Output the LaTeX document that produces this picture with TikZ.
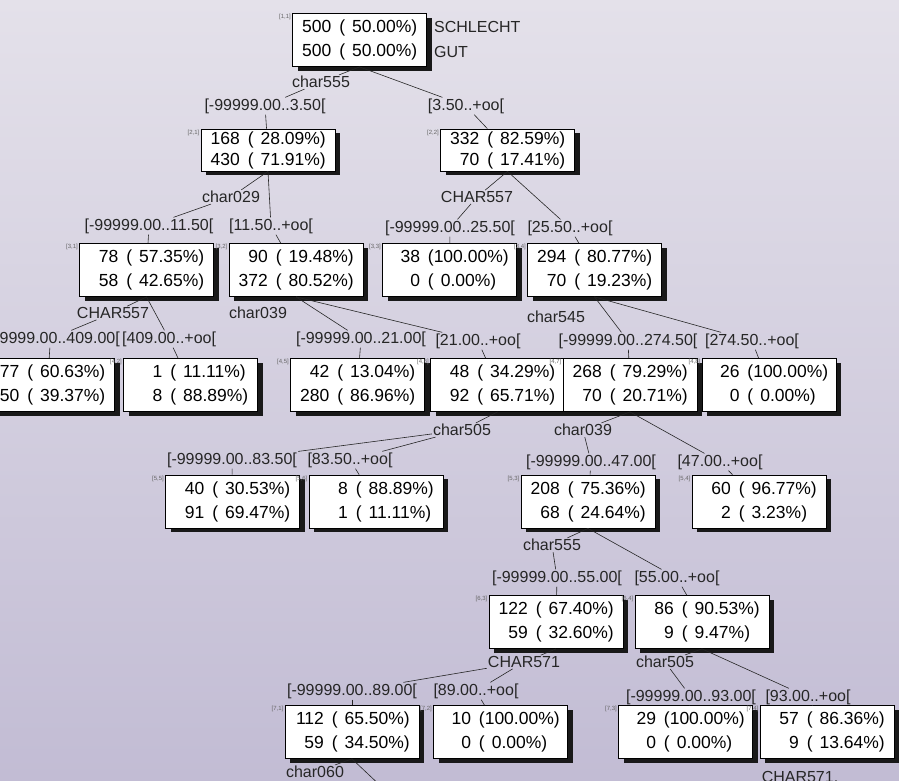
\documentclass[tikz,border=0pt]{standalone}
\usepackage{fontspec}
\setmainfont{Liberation Sans}
\definecolor{scanbg}{RGB}{194,188,212}
\definecolor{scantop}{RGB}{228,225,234}
\newcommand\rowval[2]{\makebox[1.7em][r]{#1}\hspace{0.45em}(\hspace{0.4em}#2\%)}
\newcommand\rowfull[2]{\makebox[1.7em][r]{#1}\hspace{0.45em}(#2\%)}
\tikzset{
  box/.style={draw=black, fill=white, line width=0.8pt, minimum width=134pt, minimum height=53pt, inner sep=2pt, align=left, font=\fontsize{17.5}{24}\selectfont, preaction={draw=none, fill=black!90, transform canvas={xshift=5pt, yshift=-4pt}}},
  lowbox/.style={box, minimum height=42pt, font=\fontsize{17.5}{21}\selectfont},
  lbl/.style={inner sep=1pt, font=\fontsize{16}{16}\selectfont, text=black!85},
  idlbl/.style={inner sep=1pt, font=\fontsize{6}{6}\selectfont, text=black!60},
  edge/.style={draw=black!85, line width=0.6pt}
}
\begin{document}
\begin{tikzpicture}[x=1pt,y=-1pt]
\useasboundingbox (0,0) rectangle (899,780);
\shade[top color=scantop, bottom color=scanbg] (0,0) rectangle (899,780);
\node[box] (n11) at (359.5,40) {\rowval{500}{50.00}\\\rowval{500}{50.00}};
\node[lbl, anchor=west] (cls1) at (433,27) {SCHLECHT};
\node[lbl, anchor=west] (cls2) at (433,52) {GUT};
\node[lowbox] (n21) at (268,150) {\rowval{168}{28.09}\\\rowval{430}{71.91}};
\node[lowbox] (n22) at (507.5,150) {\rowval{332}{82.59}\\\rowval{70}{17.41}};
\node[box] (n31) at (146.5,270) {\rowval{78}{57.35}\\\rowval{58}{42.65}};
\node[box] (n32) at (296,270) {\rowval{90}{19.48}\\\rowval{372}{80.52}};
\node[box] (n33) at (449.5,270) {\rowfull{38}{100.00}\\\rowval{0}{0.00}};
\node[box] (n34) at (594.5,270) {\rowval{294}{80.77}\\\rowval{70}{19.23}};
\node[box] (n41) at (47.5,385) {\rowval{77}{60.63}\\\rowval{50}{39.37}};
\node[box] (n42) at (190.5,385) {\rowval{1}{11.11}\\\rowval{8}{88.89}};
\node[box] (n43) at (357.5,385) {\rowval{42}{13.04}\\\rowval{280}{86.96}};
\node[box] (n44) at (497.5,385) {\rowval{48}{34.29}\\\rowval{92}{65.71}};
\node[box] (n45) at (630,385) {\rowval{268}{79.29}\\\rowval{70}{20.71}};
\node[box] (n46) at (769,385) {\rowfull{26}{100.00}\\\rowval{0}{0.00}};
\node[box] (n51) at (232.5,501.5) {\rowval{40}{30.53}\\\rowval{91}{69.47}};
\node[box] (n52) at (376,501.5) {\rowval{8}{88.89}\\\rowval{1}{11.11}};
\node[box] (n53) at (588,501.5) {\rowval{208}{75.36}\\\rowval{68}{24.64}};
\node[box] (n54) at (759,501.5) {\rowval{60}{96.77}\\\rowval{2}{3.23}};
\node[box] (n61) at (556,622) {\rowval{122}{67.40}\\\rowval{59}{32.60}};
\node[box] (n62) at (702,622) {\rowval{86}{90.53}\\\rowval{9}{9.47}};
\node[box] (n71) at (352,732) {\rowval{112}{65.50}\\\rowval{59}{34.50}};
\node[box] (n72) at (500.5,732) {\rowfull{10}{100.00}\\\rowval{0}{0.00}};
\node[box] (n73) at (685.5,732) {\rowfull{29}{100.00}\\\rowval{0}{0.00}};
\node[box] (n74) at (827,732) {\rowval{57}{86.36}\\\rowval{9}{13.64}};
\node[lbl] (v11) at (321,82) {char555};
\node[lbl] (l21) at (265,106) {[-99999.00..3.50[};
\node[lbl] (l22) at (466,106) {[3.50..+oo[};
\node[lbl] (v21) at (231,197) {char029};
\node[lbl] (l31) at (149,226) {[-99999.00..11.50[};
\node[lbl] (l32) at (271,226) {[11.50..+oo[};
\node[lbl] (v22) at (477,197) {CHAR557};
\node[lbl] (l33) at (450,228) {[-99999.00..25.50[};
\node[lbl] (l34) at (570,228) {[25.50..+oo[};
\node[lbl] (v31) at (113,313) {CHAR557};
\node[lbl, anchor=east] (l41) at (121,339) {[-99999.00..409.00[};
\node[lbl, anchor=west] (l42) at (121,339) {[409.00..+oo[};
\node[lbl] (v32) at (258,313) {char039};
\node[lbl] (l43) at (361,339) {[-99999.00..21.00[};
\node[lbl] (l44) at (478,341) {[21.00..+oo[};
\node[lbl] (v34) at (556,317) {char545};
\node[lbl] (l45) at (628,341) {[-99999.00..274.50[};
\node[lbl] (l46) at (752,341) {[274.50..+oo[};
\node[lbl] (v44) at (462,430) {char505};
\node[lbl] (l51) at (232,460) {[-99999.00..83.50[};
\node[lbl] (l52) at (350,460) {[83.50..+oo[};
\node[lbl] (v45) at (583,430) {char039};
\node[lbl] (l53) at (591,462) {[-99999.00..47.00[};
\node[lbl] (l54) at (720,462) {[47.00..+oo[};
\node[lbl] (v53) at (552,545) {char555};
\node[lbl] (l61) at (557,578) {[-99999.00..55.00[};
\node[lbl] (l62) at (677,578) {[55.00..+oo[};
\node[lbl] (v61) at (524,662) {CHAR571};
\node[lbl] (l71) at (352,691) {[-99999.00..89.00[};
\node[lbl] (l72) at (476,691) {[89.00..+oo[};
\node[lbl] (v62) at (665,662) {char505};
\node[lbl] (l73) at (691,697) {[-99999.00..93.00[};
\node[lbl] (l74) at (808,697) {[93.00..+oo[};
\node[lbl] (v71) at (315,772) {char060};
\node[lbl] (v74) at (800,777) {CHAR571.};
\coordinate (c71) at (385,790);
\draw[edge] (n11.south) -- (v11);
\draw[edge] (v11) -- (l21);
\draw[edge] (n11.south) -- (l22);
\draw[edge] (l21) -- (n21);
\draw[edge] (l22) -- (n22);
\draw[edge] (n21.south) -- (v21);
\draw[edge] (v21) -- (l31);
\draw[edge] (n21.south) -- (l32);
\draw[edge] (l31) -- (n31);
\draw[edge] (l32) -- (n32);
\draw[edge] (n22.south) -- (v22);
\draw[edge] (v22) -- (l33);
\draw[edge] (n22.south) -- (l34);
\draw[edge] (l33) -- (n33);
\draw[edge] (l34) -- (n34);
\draw[edge] (n31.south) -- (v31);
\draw[edge] (v31) -- (l41);
\draw[edge] (n31.south) -- (l42);
\draw[edge] (l41) -- (n41);
\draw[edge] (l42) -- (n42);
\draw[edge] (n32.south) -- (l43);
\draw[edge] (n32.south) -- (l44);
\draw[edge] (l43) -- (n43);
\draw[edge] (l44) -- (n44);
\draw[edge] (n34.south) -- (l45);
\draw[edge] (n34.south) -- (l46);
\draw[edge] (l45) -- (n45);
\draw[edge] (l46) -- (n46);
\draw[edge] (n44.south) -- (v44);
\draw[edge] (v44) -- (l51);
\draw[edge] (v44) -- (l52);
\draw[edge] (l51) -- (n51);
\draw[edge] (l52) -- (n52);
\draw[edge] (n45.south) -- (v45);
\draw[edge] (v45) -- (l53);
\draw[edge] (n45.south) -- (l54);
\draw[edge] (l53) -- (n53);
\draw[edge] (l54) -- (n54);
\draw[edge] (n53.south) -- (v53);
\draw[edge] (v53) -- (l61);
\draw[edge] (n53.south) -- (l62);
\draw[edge] (l61) -- (n61);
\draw[edge] (l62) -- (n62);
\draw[edge] (n61.south) -- (v61);
\draw[edge] (v61) -- (l71);
\draw[edge] (v61) -- (l72);
\draw[edge] (l71) -- (n71);
\draw[edge] (l72) -- (n72);
\draw[edge] (n62.south) -- (v62);
\draw[edge] (v62) -- (l73);
\draw[edge] (n62.south) -- (l74);
\draw[edge] (l73) -- (n73);
\draw[edge] (l74) -- (n74);
\draw[edge] (n71.south) -- (v71);
\draw[edge] (n71.south) -- (c71);
\node[idlbl, anchor=north east] (i11) at (n11.north west) {[1,1]};
\node[idlbl, anchor=north east] (i21) at (n21.north west) {[2,1]};
\node[idlbl, anchor=north east] (i22) at (n22.north west) {[2,2]};
\node[idlbl, anchor=north east] (i31) at (n31.north west) {[3,1]};
\node[idlbl, anchor=north east] (i32) at (n32.north west) {[3,2]};
\node[idlbl, anchor=north east] (i33) at (n33.north west) {[3,3]};
\node[idlbl, anchor=north east] (i34) at (n34.north west) {[3,4]};
\node[idlbl, anchor=north east] (i42) at (n42.north west) {[4,2]};
\node[idlbl, anchor=north east] (i43) at (n43.north west) {[4,5]};
\node[idlbl, anchor=north east] (i44) at (n44.north west) {[4,6]};
\node[idlbl, anchor=north east] (i45) at (n45.north west) {[4,7]};
\node[idlbl, anchor=north east] (i46) at (n46.north west) {[4,8]};
\node[idlbl, anchor=north east] (i51) at (n51.north west) {[5,5]};
\node[idlbl, anchor=north east] (i52) at (n52.north west) {[5,6]};
\node[idlbl, anchor=north east] (i53) at (n53.north west) {[5,3]};
\node[idlbl, anchor=north east] (i54) at (n54.north west) {[5,4]};
\node[idlbl, anchor=north east] (i61) at (n61.north west) {[6,3]};
\node[idlbl, anchor=north east] (i62) at (n62.north west) {[6,4]};
\node[idlbl, anchor=north east] (i71) at (n71.north west) {[7,1]};
\node[idlbl, anchor=north east] (i72) at (n72.north west) {[7,2]};
\node[idlbl, anchor=north east] (i73) at (n73.north west) {[7,3]};
\node[idlbl, anchor=north east] (i74) at (n74.north west) {[7,4]};
\end{tikzpicture}
\end{document}
